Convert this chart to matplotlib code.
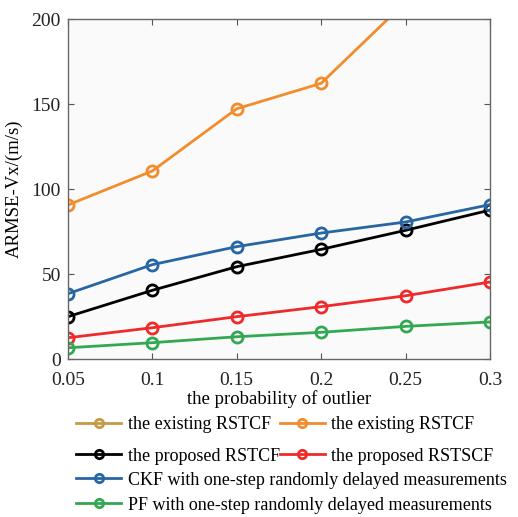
import matplotlib
matplotlib.use("Agg")
import matplotlib.pyplot as plt

plt.rcParams['font.family'] = ['Liberation Serif', 'DejaVu Serif']

x = [0.05, 0.10, 0.15, 0.20, 0.25, 0.30]
existing_gold = [260, 280, 300, 320, 340, 360]
existing_orange = [90.6, 110.6, 147.2, 162.2, 210.0, 260.0]
proposed_rstcf = [24.9, 40.4, 54.3, 64.5, 75.7, 87.6]
proposed_rstscf = [12.5, 18.4, 24.9, 30.8, 37.2, 45.3]
ckf = [38.4, 55.5, 66.1, 74.1, 80.6, 90.8]
pf = [6.6, 9.6, 13.1, 15.7, 19.2, 21.8]

labels = ["the existing RSTCF", "the existing RSTCF", "the proposed RSTCF",
          "the proposed RSTSCF", "CKF with one-step randomly delayed measurements",
          "PF with one-step randomly delayed measurements"]
colors = ["#C49A45", "#F28C2C", "#000000", "#EE2A2A", "#2766A3", "#33A852"]
series = [existing_gold, existing_orange, proposed_rstcf, proposed_rstscf, ckf, pf]

fig = plt.figure(figsize=(5.18, 5.17), dpi=100)
ax = fig.add_axes([0.131, 0.3056, 0.815, 0.6576])
ax.set_facecolor("#FAFAFA")

handles = []
for y, c, lab in zip(series, colors, labels):
    h, = ax.plot(x, y, color=c, lw=2.0, marker='o', markersize=8,
                 markerfacecolor='none', markeredgewidth=2.0, label=lab, clip_on=True)
    handles.append(h)

ax.set_xlim(0.05, 0.30)
ax.set_ylim(0, 200)
ax.set_xticks([0.05, 0.1, 0.15, 0.2, 0.25, 0.3])
ax.set_xticklabels(["0.05", "0.1", "0.15", "0.2", "0.25", "0.3"])
ax.set_yticks([0, 50, 100, 150, 200])
ax.tick_params(direction='in', top=True, right=True, labelsize=14, length=4,
               colors='#555555', labelcolor='#222222')
ax.tick_params(axis='x', pad=9)
ax.tick_params(axis='y', pad=5)
for s in ax.spines.values():
    s.set_color('#666666')
    s.set_linewidth(1.0)
ax.set_xlabel("the probability of outlier", fontsize=13.5, labelpad=1)
ax.set_ylabel("ARMSE-Vx/(m/s)", fontsize=13.5, labelpad=6)

fs = 13.0
leg1 = fig.legend([handles[0], handles[2], handles[1], handles[3]],
                  [labels[0], labels[2], labels[1], labels[3]],
                  ncol=2, loc='upper left', bbox_to_anchor=(0.147, 0.195),
                  frameon=False, fontsize=fs, handlelength=2.5, handletextpad=0.35,
                  columnspacing=0.0, labelspacing=0.8, borderpad=0, borderaxespad=0)
for h in leg1.legend_handles:
    h.set_markersize(6)
leg2 = fig.legend([handles[4], handles[5]], [labels[4], labels[5]],
                  ncol=1, loc='upper left', bbox_to_anchor=(0.147, 0.088),
                  frameon=False, fontsize=fs, handlelength=2.5, handletextpad=0.35,
                  labelspacing=0.45, borderpad=0, borderaxespad=0)
for h in leg2.legend_handles:
    h.set_markersize(6)

fig.savefig("out.png", dpi=100, facecolor='white')
